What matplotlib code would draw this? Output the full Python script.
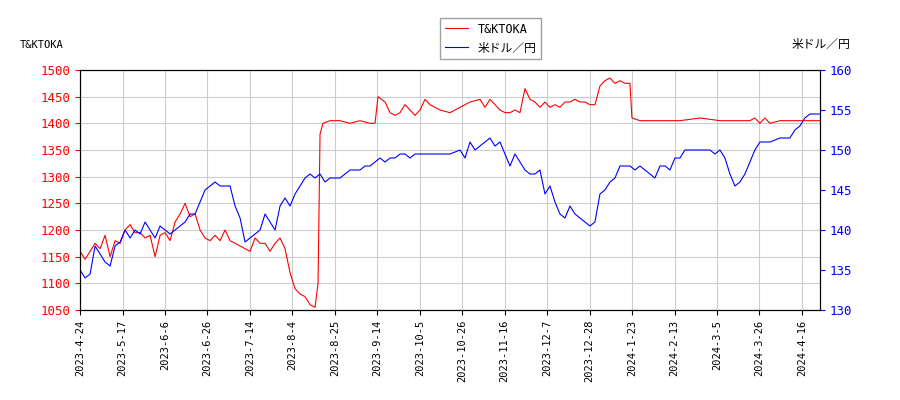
import numpy as np
import pandas as pd
import matplotlib
matplotlib.use("Agg")
import matplotlib.pyplot as plt

plt.rcParams['font.family'] = ['DejaVu Sans Mono', 'Noto Sans CJK JP']

px_per_day = 722 / 255  # one trading day in chart pixels

tick_labels = ['2023-4-24', '2023-5-17', '2023-6-6', '2023-6-26', '2023-7-14', '2023-8-4',
               '2023-8-25', '2023-9-14', '2023-10-5', '2023-10-26', '2023-11-16', '2023-12-7',
               '2023-12-28', '2024-1-23', '2024-2-13', '2024-3-5', '2024-3-26', '2024-4-16']

# sample positions (chart px) -> converted to trading-day index
stock_x = [80, 85, 90, 95, 100, 105, 110, 115, 120, 125, 130, 135, 140, 145, 150, 155, 160, 165, 170, 175,
           180, 185, 190, 195, 200, 205, 210, 215, 220, 225, 230, 235, 240, 245, 250, 255, 260, 265, 270, 275,
           280, 285, 290, 295, 300, 305, 310, 315, 318, 320, 323, 330, 340, 350, 360, 370, 375, 378, 385, 390,
           395, 400, 405, 410, 415, 420, 425, 430, 440, 450, 455, 460, 470, 480, 485, 490, 495, 500, 505, 510,
           515, 520, 525, 530, 535, 540, 545, 550, 555, 560, 565, 570, 575, 580, 585, 590, 595, 600, 605, 610,
           615, 620, 625, 630, 632, 640, 660, 680, 700, 720, 740, 750, 755, 760, 765, 770, 780, 800, 815, 820]
stock = [1160, 1145, 1160, 1175, 1165, 1190, 1150, 1180, 1175, 1200, 1210, 1195, 1195, 1185, 1190, 1150, 1190, 1195, 1180, 1215,
         1230, 1250, 1225, 1230, 1200, 1185, 1180, 1190, 1180, 1200, 1180, 1175, 1170, 1165, 1160, 1185, 1175, 1175, 1160, 1175,
         1185, 1165, 1120, 1090, 1080, 1075, 1060, 1055, 1100, 1380, 1400, 1405, 1405, 1400, 1405, 1400, 1400, 1450, 1440, 1420,
         1415, 1420, 1435, 1425, 1415, 1425, 1445, 1435, 1425, 1420, 1425, 1430, 1440, 1445, 1430, 1445, 1435, 1425, 1420, 1420,
         1425, 1420, 1465, 1445, 1440, 1430, 1440, 1430, 1435, 1430, 1440, 1440, 1445, 1440, 1440, 1435, 1435, 1470, 1480, 1485,
         1475, 1480, 1475, 1475, 1410, 1405, 1405, 1405, 1410, 1405, 1405, 1405, 1410, 1400, 1410, 1400, 1405, 1405, 1405, 1405]

fx_x = [80, 85, 90, 95, 100, 105, 110, 115, 120, 125, 130, 135, 140, 145, 150, 155, 160, 165, 170, 175,
        180, 185, 190, 195, 200, 205, 210, 215, 220, 225, 230, 235, 240, 245, 250, 255, 260, 265, 270, 275,
        280, 285, 290, 295, 300, 305, 310, 315, 320, 325, 330, 335, 340, 345, 350, 355, 360, 365, 370, 375,
        380, 385, 390, 395, 400, 405, 410, 415, 420, 425, 430, 440, 450, 460, 465, 470, 475, 480, 490, 495,
        500, 505, 510, 515, 520, 525, 530, 535, 540, 545, 550, 555, 560, 565, 570, 575, 580, 585, 590, 595,
        600, 605, 610, 615, 620, 625, 630, 635, 640, 645, 650, 655, 660, 665, 670, 675, 680, 685, 690, 700,
        710, 715, 720, 725, 730, 735, 740, 745, 750, 755, 760, 770, 780, 790, 795, 800, 805, 810, 815, 820]
fx = [135, 134, 134.5, 138, 137, 136, 135.5, 138, 138.5, 140, 139, 140, 139.5, 141, 140, 139, 140.5, 140, 139.5, 140,
      140.5, 141, 142, 142, 143.5, 145, 145.5, 146, 145.5, 145.5, 145.5, 143, 141.5, 138.5, 139, 139.5, 140, 142, 141, 140,
      143, 144, 143, 144.5, 145.5, 146.5, 147, 146.5, 147, 146, 146.5, 146.5, 146.5, 147, 147.5, 147.5, 147.5, 148, 148, 148.5,
      149, 148.5, 149, 149, 149.5, 149.5, 149, 149.5, 149.5, 149.5, 149.5, 149.5, 149.5, 150, 149, 151, 150, 150.5, 151.5, 150.5,
      151, 149.5, 148, 149.5, 148.5, 147.5, 147, 147, 147.5, 144.5, 145.5, 143.5, 142, 141.5, 143, 142, 141.5, 141, 140.5, 141,
      144.5, 145, 146, 146.5, 148, 148, 148, 147.5, 148, 147.5, 147, 146.5, 148, 148, 147.5, 149, 149, 150, 150, 150,
      150, 149.5, 150, 149, 147, 145.5, 146, 147, 148.5, 150, 151, 151, 151.5, 151.5, 152.5, 153, 154, 154.5, 154.5, 154.5]

def to_idx(xs):
    return [(x - 80) / px_per_day for x in xs]

fig = plt.figure(figsize=(9, 4), dpi=100)
ax = fig.add_axes([0.089, 0.225, 0.822, 0.6])
ax2 = ax.twinx()

l1, = ax.plot(to_idx(stock_x), stock, color='red', lw=0.8, label='T&KTOKA')
l2, = ax2.plot(to_idx(fx_x), fx, color='blue', lw=0.8, label='米ドル／円')

ax.set_ylim(1050, 1500)
ax.set_yticks(range(1050, 1501, 50))
ax2.set_ylim(130, 160)
ax2.set_yticks(range(130, 161, 5))
ax.set_xlim(0, (820 - 80) / px_per_day)
ax.set_xticks(np.arange(len(tick_labels)) * 15)
ax.set_xticklabels(tick_labels, rotation=90)
ax.tick_params(axis='x', labelsize=7.5)
ax.tick_params(axis='y', labelsize=9, colors='red')
ax2.tick_params(axis='y', labelsize=9, colors='blue')
ax.grid(True, color='#cccccc', lw=0.8)

fig.text(0.022, 0.88, 'T&KTOKA', fontsize=7.5)
fig.text(0.945, 0.88, '米ドル／円', fontsize=8.5, ha='right')
fig.legend(handles=[l1, l2], loc='upper center', bbox_to_anchor=(0.545, 0.97),
           fontsize=8.5, fancybox=False, edgecolor='#888888')

fig.savefig('out.png')
